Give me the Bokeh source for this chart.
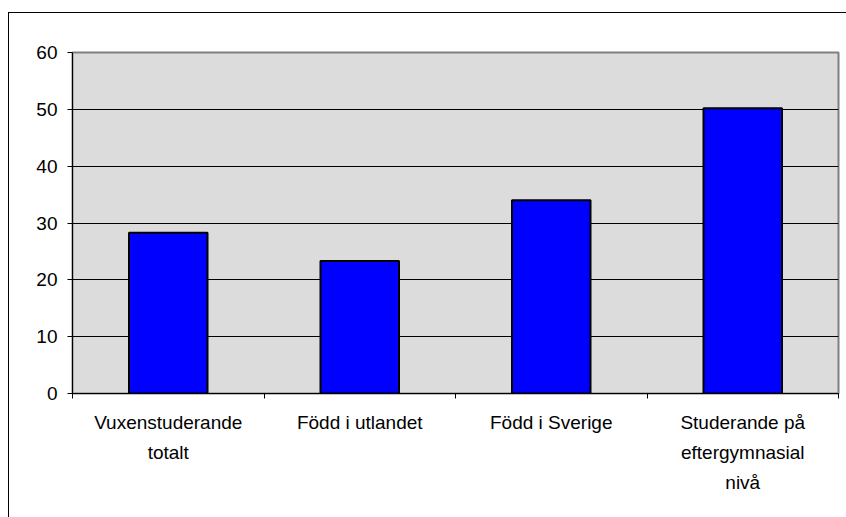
from bokeh.plotting import figure
from bokeh.models import FactorRange, Range1d, LinearAxis, FixedTicker
from bokeh.embed import file_html
from bokeh.resources import INLINE

categories = ["Vuxenstuderande\ntotalt", "Född i utlandet", "Född i Sverige",
              "Studerande på\neftergymnasial\nnivå"]
values = [28.3, 23.3, 34.0, 50.2]
y_ticks = [0, 10, 20, 30, 40, 50, 60]
grid_ticks = [10, 20, 30, 40, 50]
boundary_ticks = [0, 1, 2, 3, 4]

FONT = "Liberation Sans"
FS = "19px"

p = figure(x_range=FactorRange(factors=categories, range_padding=0),
           y_range=Range1d(0, 60),
           frame_width=766, frame_height=341,
           min_border_left=63, min_border_right=8,
           min_border_top=39, min_border_bottom=124,
           output_backend="svg", toolbar_location=None,
           background_fill_color="#DCDCDC", border_fill_color="white")
p.styles = {"margin-left": "8px", "margin-top": "12px",
            "border-left": "1px solid black", "border-top": "1px solid black"}

p.vbar(x=categories, top=values, width=0.41, fill_color="#0000FF",
       line_color="black", line_width=2)

# y axis
p.yaxis.ticker = FixedTicker(ticks=y_ticks)
p.yaxis.major_tick_out = 5
p.yaxis.major_tick_in = 0
p.yaxis.minor_tick_line_color = None
p.yaxis.axis_line_color = "black"
p.yaxis.major_tick_line_color = "black"
p.yaxis.major_label_standoff = 10
p.yaxis.major_label_text_font = FONT
p.yaxis.major_label_text_font_size = FS
p.yaxis.major_label_text_color = "black"

# grid
p.ygrid.ticker = FixedTicker(ticks=grid_ticks)
p.ygrid.grid_line_color = "black"
p.ygrid.grid_line_width = 1
p.xgrid.grid_line_color = None

p.outline_line_color = "#808080"
p.outline_line_width = 2

# category axis (labels only)
cat_axis = p.xaxis[0]
cat_axis.major_tick_line_color = None
cat_axis.axis_line_color = None
cat_axis.major_label_standoff = 7
cat_axis.major_label_text_font = FONT
cat_axis.major_label_text_font_size = FS
cat_axis.major_label_text_color = "black"
cat_axis.major_label_text_line_height = 1.45

# boundary ticks axis (synthetic category coordinates 0..4 are the boundaries)
tick_axis = LinearAxis(ticker=FixedTicker(ticks=boundary_ticks),
                       major_label_overrides={t: "" for t in boundary_ticks},
                       major_tick_out=5, major_tick_in=0, minor_tick_line_color=None,
                       axis_line_color="black", major_tick_line_color="black",
                       major_label_standoff=0)
p.add_layout(tick_axis, "below")
p.below = [tick_axis] + [a for a in p.below if a is not tick_axis]

open("out.html", "w").write(file_html(p, INLINE))
